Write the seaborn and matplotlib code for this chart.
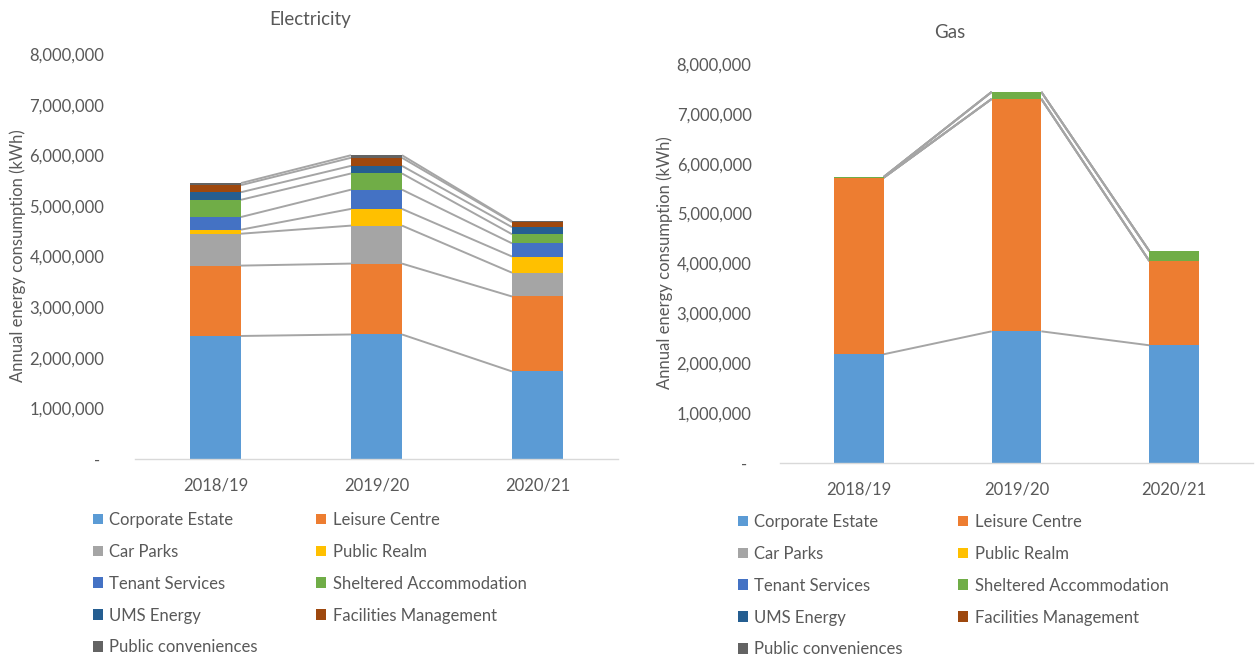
import numpy as np
import matplotlib
matplotlib.use("Agg")
import matplotlib.pyplot as plt
from matplotlib.patches import Patch
from matplotlib.ticker import FuncFormatter, MultipleLocator
import seaborn as sns

# ---------------- data ----------------
years = ["2018/19", "2019/20", "2020/21"]
categories = ["Corporate Estate", "Leisure Centre", "Car Parks", "Public Realm",
              "Tenant Services", "Sheltered Accommodation", "UMS Energy",
              "Facilities Management", "Public conveniences"]

elec_corporate = [2430000, 2460000, 1730000]
elec_leisure = [1390000, 1400000, 1480000]
elec_carparks = [630000, 750000, 470000]
elec_publicrealm = [80000, 330000, 320000]
elec_tenant = [250000, 380000, 260000]
elec_sheltered = [340000, 320000, 180000]
elec_ums = [150000, 150000, 140000]
elec_facilities = [140000, 160000, 100000]
elec_conveniences = [40000, 50000, 15000]

gas_corporate = [2180000, 2640000, 2360000]
gas_leisure = [3540000, 4660000, 1690000]
gas_carparks = [0, 0, 0]
gas_publicrealm = [0, 0, 0]
gas_tenant = [0, 0, 0]
gas_sheltered = [15000, 140000, 200000]
gas_ums = [0, 0, 0]
gas_facilities = [0, 0, 0]
gas_conveniences = [0, 0, 0]

colors = ["#5B9BD5", "#ED7D31", "#A5A5A5", "#FFC000", "#4472C4",
          "#70AD47", "#255E91", "#9E480E", "#636363"]

elec = [elec_corporate, elec_leisure, elec_carparks, elec_publicrealm, elec_tenant,
        elec_sheltered, elec_ums, elec_facilities, elec_conveniences]
gas = [gas_corporate, gas_leisure, gas_carparks, gas_publicrealm, gas_tenant,
       gas_sheltered, gas_ums, gas_facilities, gas_conveniences]

# ---------------- style ----------------
sns.set_theme(style="white")
plt.rcParams['font.family'] = ['Lato', 'DejaVu Sans']
TXT = "#595959"
FS = 12

W_PX, H_PX = 1255, 657
fig = plt.figure(figsize=(W_PX / 100, H_PX / 100), dpi=100)


def fx(px):
    return px / W_PX


def fy(py):
    return 1 - py / H_PX


def draw(ax, series, bar_w, tick_pad):
    cum = np.cumsum(np.array(series, dtype=float), axis=0)
    for k in reversed(range(len(categories))):
        sns.barplot(x=years, y=cum[k], order=years, color=colors[k], width=bar_w,
                    saturation=1, errorbar=None, ax=ax, zorder=2, linewidth=0)
    # series lines
    for k in range(len(categories)):
        for i in range(len(years) - 1):
            ax.plot([i + bar_w / 2, i + 1 - bar_w / 2], [cum[k][i], cum[k][i + 1]],
                    color="#A5A5A5", lw=1.4, zorder=1, solid_capstyle="butt")
    ax.set_xlim(-0.5, 2.5)
    ax.set_ylim(0, 8000000)
    ax.yaxis.set_major_locator(MultipleLocator(1000000))
    ax.yaxis.set_major_formatter(FuncFormatter(
        lambda v, p: "- " if v == 0 else f"{v:,.0f}"))
    ax.set_xlabel("")
    ax.set_ylabel("")
    for s in ["left", "top", "right"]:
        ax.spines[s].set_visible(False)
    ax.spines["bottom"].set_color("#D9D9D9")
    ax.spines["bottom"].set_linewidth(1.0)
    ax.tick_params(axis="y", left=False, pad=tick_pad, labelsize=FS, labelcolor=TXT)
    ax.tick_params(axis="x", bottom=False, pad=7.5, labelsize=FS, labelcolor=TXT)
    ax.grid(False)


ax1 = fig.add_axes([fx(135), fy(459), fx(618 - 135), (459 - 54) / H_PX])
draw(ax1, elec, 0.317, 16)
ax2 = fig.add_axes([fx(780), fy(463), fx(1253 - 780), (463 - 64) / H_PX])
draw(ax2, gas, 0.315, 14.5)

fig.text(fx(310), fy(20), "Electricity", ha="center", va="center", fontsize=13.5, color=TXT)
fig.text(fx(950), fy(32), "Gas", ha="center", va="center", fontsize=13.5, color=TXT)
fig.text(fx(18), fy(256), "Annual energy consumption (kWh)", rotation=90,
         ha="center", va="center", fontsize=FS, color=TXT)
fig.text(fx(665), fy(263), "Annual energy consumption (kWh)", rotation=90,
         ha="center", va="center", fontsize=FS, color=TXT)

handles = [Patch(facecolor=c, edgecolor="none", label=l) for c, l in zip(colors, categories)]
col1 = [0, 2, 4, 6, 8]
col2 = [1, 3, 5, 7]


def add_legend(idx, x_px, top_px):
    fig.legend(handles=[handles[i] for i in idx], loc="upper left",
               bbox_to_anchor=(fx(x_px), fy(top_px)), bbox_transform=fig.transFigure,
               frameon=False, fontsize=FS, labelcolor=TXT, borderpad=0, borderaxespad=0,
               handlelength=0.6, handleheight=0.6, handletextpad=0.4, labelspacing=0.95)


add_legend(col1, 92.5, 512)
add_legend(col2, 316, 512)
add_legend(col1, 737.5, 514)
add_legend(col2, 958, 514)

fig.savefig("out.png", dpi=100)
